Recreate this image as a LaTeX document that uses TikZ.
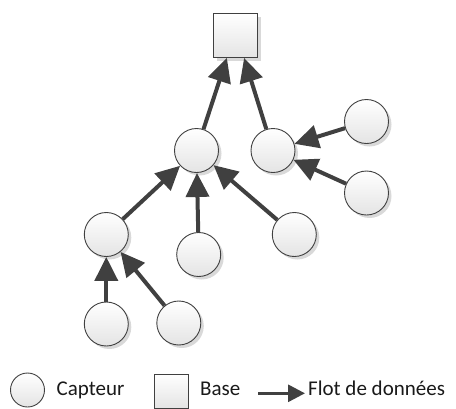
\documentclass[tikz,border=0pt]{standalone}
\usepackage{fontspec}
\setmainfont{Carlito}
\usetikzlibrary{arrows.meta,shadows,shapes.geometric}
\definecolor{edgegray}{HTML}{404040}
\definecolor{shadegray}{HTML}{E4E4E4}
\tikzset{
  sensor/.style={circle, draw=edgegray, line width=0.9pt, minimum size=44pt, inner sep=0pt,
    top color=white, bottom color=shadegray,
    drop shadow={shadow xshift=3pt, shadow yshift=-3pt, opacity=0.3, fill=gray}},
  basebox/.style={rectangle, draw=edgegray, line width=0.9pt, minimum size=44pt, inner sep=0pt,
    top color=white, bottom color=shadegray,
    drop shadow={shadow xshift=3pt, shadow yshift=-3pt, opacity=0.3, fill=gray}},
  legsensor/.style={circle, draw=edgegray, line width=0.9pt, minimum size=34pt, inner sep=0pt,
    top color=white, bottom color=shadegray},
  legbox/.style={rectangle, draw=edgegray, line width=0.9pt, minimum size=34pt, inner sep=0pt,
    top color=white, bottom color=shadegray},
  flow/.style={draw=edgegray, line width=4pt, -{Triangle[length=24pt, width=23pt]}, shorten >=0pt},
  legflow/.style={draw=edgegray, line width=3pt, -{Triangle[length=17pt, width=17pt]}},
  legtext/.style={anchor=base west, inner sep=0pt, font=\fontsize{21}{25}\selectfont, text=black!90},
}
\begin{document}
\begin{tikzpicture}[x=1pt, y=-1pt]
\useasboundingbox (0,0) rectangle (456,408);
\node[basebox] (S) at (235.5,35.5) {};
\node[sensor] (A) at (196.5,150.5) {};
\node[sensor] (B) at (273,150.5) {};
\node[sensor] (C) at (366.5,121.5) {};
\node[sensor] (D) at (366.5,193) {};
\node[sensor] (E) at (106.3,234.5) {};
\node[sensor] (F) at (198.7,254.5) {};
\node[sensor] (G) at (294.3,234.5) {};
\node[sensor] (H) at (106.3,324) {};
\node[sensor] (I) at (178.8,323) {};

\draw[flow] (A) -- (S.249);
\draw[flow] (B) -- (S.291);
\draw[flow] (C) -- (B);
\draw[flow] (D) -- (B);
\draw[flow] (E) -- (A);
\draw[flow] (F) -- (A);
\draw[flow] (G) -- (A);
\draw[flow] (H) -- (E);
\draw[flow] (I) -- (E);

% legend
\node[legsensor] (L1) at (27.5,390) {};
\node[legtext] (T1) at (56.5,395.7) {Capteur};
\node[legbox] (L2) at (171,391) {};
\node[legtext] (T2) at (200,395.7) {Base};
\coordinate (la) at (258,393.3);
\coordinate (lb) at (305,393.3);
\draw[legflow] (la) -- (lb);
\node[legtext] (T3) at (308,395.7) {Flot de données};
\end{tikzpicture}
\end{document}
